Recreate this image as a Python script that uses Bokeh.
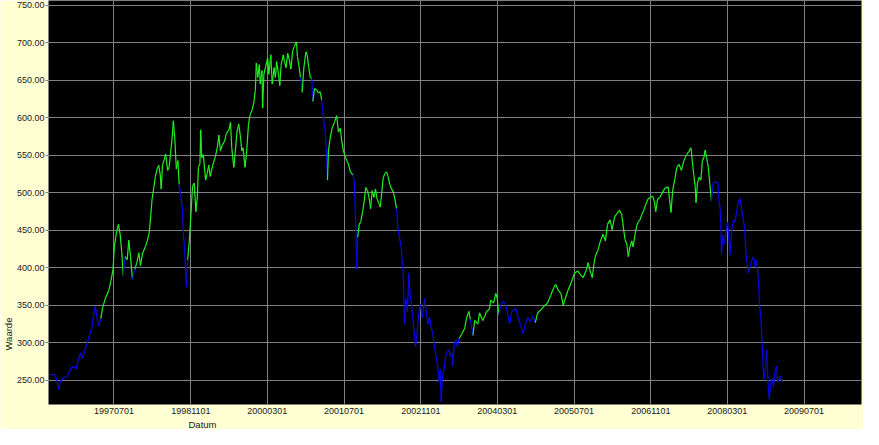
import pandas as pd
from datetime import datetime
from bokeh.plotting import figure
from bokeh.models import (ColumnDataSource, FixedTicker, DatetimeTickFormatter,
                          NumeralTickFormatter, Range1d, Title)
from bokeh.embed import file_html
from bokeh.resources import INLINE

# ---------------- data ----------------
dates = [
    "1996-05-15", "1996-06-16", "1996-06-29", "1996-07-15", "1996-07-25", "1996-08-15", "1996-09-05", "1996-09-25", "1996-10-16", "1996-10-31",
    "1996-11-16", "1996-12-02", "1996-12-10", "1996-12-27", "1997-01-13", "1997-01-27", "1997-02-11", "1997-02-21", "1997-03-04", "1997-03-14",
    "1997-03-26", "1997-04-08", "1997-04-20", "1997-05-08", "1997-05-29", "1997-06-12", "1997-06-25", "1997-07-03", "1997-07-15", "1997-07-29",
    "1997-08-09", "1997-08-19", "1997-08-29", "1997-09-09", "1997-09-23", "1997-10-03", "1997-10-14", "1997-10-26", "1997-11-10", "1997-11-23",
    "1997-12-06", "1997-12-16", "1997-12-30", "1998-01-16", "1998-01-30", "1998-02-10", "1998-02-20", "1998-02-28", "1998-03-11", "1998-03-21",
    "1998-04-01", "1998-04-11", "1998-04-21", "1998-04-27", "1998-05-05", "1998-05-17", "1998-05-25", "1998-06-07", "1998-06-17", "1998-06-25",
    "1998-07-05", "1998-07-13", "1998-07-22", "1998-08-01", "1998-08-11", "1998-08-19", "1998-08-28", "1998-09-08", "1998-09-16", "1998-09-22",
    "1998-09-28", "1998-10-04", "1998-10-12", "1998-10-22", "1998-11-02", "1998-11-12", "1998-11-23", "1998-12-03", "1998-12-13", "1998-12-19",
    "1998-12-29", "1999-01-03", "1999-01-09", "1999-01-19", "1999-02-03", "1999-02-13", "1999-02-23", "1999-03-04", "1999-03-20", "1999-04-04",
    "1999-04-18", "1999-04-28", "1999-05-08", "1999-05-20", "1999-06-04", "1999-06-14", "1999-07-01", "1999-07-11", "1999-07-19", "1999-08-01",
    "1999-08-11", "1999-08-21", "1999-09-01", "1999-09-11", "1999-09-21", "1999-09-29", "1999-10-11", "1999-10-20", "1999-11-02", "1999-11-11",
    "1999-11-26", "1999-12-06", "1999-12-16", "1999-12-22", "1999-12-31", "2000-01-10", "2000-01-16", "2000-01-27", "2000-01-31", "2000-02-08",
    "2000-02-20", "2000-03-03", "2000-03-11", "2000-03-23", "2000-04-01", "2000-04-13", "2000-04-21", "2000-04-29", "2000-05-11", "2000-05-19",
    "2000-05-28", "2000-06-10", "2000-06-18", "2000-06-28", "2000-07-08", "2000-07-18", "2000-07-29", "2000-08-08", "2000-08-18", "2000-09-02",
    "2000-09-08", "2000-09-18", "2000-09-28", "2000-10-08", "2000-10-19", "2000-11-01", "2000-11-09", "2000-11-19", "2000-11-29", "2000-12-09",
    "2000-12-15", "2000-12-26", "2001-01-09", "2001-01-20", "2001-01-30", "2001-02-09", "2001-02-15", "2001-02-24", "2001-03-02", "2001-03-10",
    "2001-03-18", "2001-03-24", "2001-04-04", "2001-04-16", "2001-05-01", "2001-05-15", "2001-05-27", "2001-06-07", "2001-06-17", "2001-06-27",
    "2001-07-11", "2001-07-28", "2001-08-11", "2001-08-26", "2001-09-04", "2001-09-08", "2001-09-14", "2001-09-20", "2001-09-26", "2001-10-06",
    "2001-10-16", "2001-10-27", "2001-11-06", "2001-11-16", "2001-11-27", "2001-12-07", "2001-12-17", "2001-12-27", "2002-01-07", "2002-01-17",
    "2002-01-27", "2002-02-07", "2002-02-16", "2002-02-26", "2002-03-07", "2002-03-18", "2002-03-28", "2002-04-07", "2002-04-18", "2002-04-30",
    "2002-05-10", "2002-05-20", "2002-05-31", "2002-06-08", "2002-06-18", "2002-06-29", "2002-07-05", "2002-07-11", "2002-07-14", "2002-07-20",
    "2002-07-29", "2002-08-08", "2002-08-17", "2002-08-25", "2002-09-03", "2002-09-11", "2002-09-19", "2002-09-29", "2002-10-09", "2002-10-20",
    "2002-10-30", "2002-11-10", "2002-11-20", "2002-11-26", "2002-12-06", "2002-12-16", "2002-12-26", "2003-01-06", "2003-01-16", "2003-01-27",
    "2003-02-06", "2003-02-16", "2003-02-26", "2003-03-04", "2003-03-10", "2003-03-19", "2003-03-29", "2003-04-07", "2003-04-17", "2003-04-27",
    "2003-05-08", "2003-05-17", "2003-05-23", "2003-06-01", "2003-06-11", "2003-06-21", "2003-07-02", "2003-07-08", "2003-07-22", "2003-08-07",
    "2003-08-18", "2003-09-02", "2003-09-12", "2003-09-28", "2003-10-09", "2003-10-29", "2003-11-09", "2003-11-29", "2003-12-13", "2003-12-23",
    "2004-01-10", "2004-01-19", "2004-02-06", "2004-02-20", "2004-02-29", "2004-03-10", "2004-03-24", "2004-04-06", "2004-04-20", "2004-04-30",
    "2004-05-17", "2004-06-01", "2004-06-14", "2004-06-26", "2004-07-11", "2004-07-25", "2004-08-11", "2004-08-27", "2004-09-11", "2004-09-25",
    "2004-10-12", "2004-10-28", "2004-11-12", "2004-12-02", "2004-12-22", "2005-01-13", "2005-02-02", "2005-02-23", "2005-03-07", "2005-03-23",
    "2005-04-09", "2005-04-23", "2005-05-03", "2005-05-23", "2005-06-14", "2005-07-04", "2005-07-24", "2005-08-10", "2005-08-27", "2005-09-15",
    "2005-09-29", "2005-10-11", "2005-10-25", "2005-11-05", "2005-11-15", "2005-11-29", "2005-12-16", "2006-01-01", "2006-01-16", "2006-01-30",
    "2006-02-15", "2006-02-28", "2006-03-16", "2006-04-02", "2006-04-16", "2006-04-30", "2006-05-11", "2006-05-21", "2006-06-01", "2006-06-11",
    "2006-06-21", "2006-07-03", "2006-07-11", "2006-07-24", "2006-08-03", "2006-08-14", "2006-08-24", "2006-09-04", "2006-09-18", "2006-10-02",
    "2006-10-14", "2006-10-28", "2006-11-12", "2006-11-24", "2006-12-02", "2006-12-14", "2006-12-28", "2007-01-13", "2007-01-29", "2007-02-19",
    "2007-02-28", "2007-03-09", "2007-03-20", "2007-04-03", "2007-04-15", "2007-04-29", "2007-05-14", "2007-05-30", "2007-06-16", "2007-06-30",
    "2007-07-14", "2007-07-22", "2007-07-31", "2007-08-10", "2007-08-15", "2007-08-24", "2007-09-04", "2007-09-15", "2007-09-24", "2007-10-04",
    "2007-10-12", "2007-10-21", "2007-11-01", "2007-11-11", "2007-11-21", "2007-12-01", "2007-12-11", "2007-12-22", "2008-01-01", "2008-01-07",
    "2008-01-16", "2008-01-20", "2008-01-24", "2008-02-01", "2008-02-12", "2008-02-22", "2008-03-02", "2008-03-12", "2008-03-18", "2008-03-28",
    "2008-04-08", "2008-04-18", "2008-04-28", "2008-05-09", "2008-05-19", "2008-05-29", "2008-06-09", "2008-06-19", "2008-06-27", "2008-07-05",
    "2008-07-13", "2008-07-24", "2008-08-03", "2008-08-14", "2008-08-24", "2008-09-03", "2008-09-14", "2008-09-22", "2008-09-30", "2008-10-08",
    "2008-10-14", "2008-10-20", "2008-10-28", "2008-11-06", "2008-11-14", "2008-11-22", "2008-12-01", "2008-12-09", "2008-12-19", "2008-12-29",
    "2009-01-07", "2009-01-15", "2009-01-25", "2009-02-01", "2009-02-09",
]

values = [
    258, 258, 253, 238, 249, 254, 255, 264, 269, 265,
    277, 287, 279, 290, 300, 311, 321, 338, 349, 334,
    322, 332, 347, 360, 370, 383, 398, 428, 445, 458,
    445, 422, 390, 415, 411, 437, 415, 385, 398, 407,
    420, 403, 420, 428, 437, 447, 471, 492, 507, 522,
    532, 537, 524, 505, 537, 545, 552, 530, 535, 552,
    573, 596, 573, 532, 543, 511, 498, 479, 441, 428,
    400, 375, 411, 435, 472, 509, 513, 475, 496, 534,
    539, 584, 547, 551, 517, 526, 537, 522, 537, 547,
    560, 577, 556, 564, 569, 579, 584, 594, 560, 534,
    556, 581, 592, 577, 556, 560, 534, 551, 590, 603,
    611, 620, 637, 673, 654, 671, 645, 663, 613, 658,
    669, 680, 658, 684, 645, 667, 654, 675, 658, 643,
    671, 684, 675, 667, 686, 678, 665, 688, 695, 701,
    682, 669, 654, 634, 667, 688, 684, 667, 654, 652,
    622, 639, 637, 633, 635, 624, 611, 594, 586, 560,
    517, 556, 573, 586, 594, 603, 581, 586, 569, 556,
    547, 539, 528, 524, 516, 492, 453, 398, 441, 458,
    462, 475, 488, 507, 503, 494, 479, 503, 494, 505,
    492, 486, 481, 501, 520, 526, 528, 522, 511, 505,
    501, 492, 479, 453, 441, 428, 411, 398, 376, 325,
    359, 342, 393, 364, 351, 334, 316, 295, 316, 342,
    351, 334, 351, 359, 342, 325, 334, 321, 312, 295,
    282, 269, 248, 265, 222, 257, 265, 282, 287, 291,
    282, 287, 269, 299, 304, 295, 306, 308, 313, 320,
    333, 342, 331, 310, 330, 325, 340, 330, 336, 342,
    345, 357, 353, 366, 360, 338, 351, 355, 353, 344,
    325, 342, 344, 346, 334, 325, 312, 325, 334, 329,
    336, 327, 340, 344, 349, 353, 363, 374, 378, 370,
    366, 350, 357, 370, 381, 393, 396, 391, 387, 396,
    407, 396, 387, 406, 417, 423, 436, 445, 436, 458,
    464, 451, 468, 473, 477, 471, 453, 438, 432, 415,
    428, 436, 428, 445, 456, 462, 464, 471, 477, 486,
    492, 494, 496, 488, 475, 492, 494, 500, 506, 508,
    491, 474, 504, 519, 534, 538, 530, 543, 551, 555,
    560, 543, 525, 508, 487, 513, 521, 517, 543, 547,
    557, 547, 534, 511, 489, 513, 515, 513, 515, 491,
    478, 449, 419, 444, 432, 449, 461, 436, 417, 449,
    464, 461, 474, 487, 493, 481, 466, 453, 419, 406,
    393, 402, 410, 415, 402, 410, 385, 350, 333, 299,
    269, 252, 265, 291, 248, 225, 244, 252, 242, 261,
    269, 248, 252, 256, 248,
]

# trend state at each point: G = above trend (green), B = below trend (blue)
trend_rows = """
BBBBBBBBBB BBBBBBBBBB BGGGGGGGGG GGBGGGGBGG GGGGGGGGGG
GGGGGGGGGG GGGGGBBBBB BBGGGGGGGG GGGGGGGGGG GGGGGGGGGG
GGGGGGGGGG GGGGGGGGGG GGGGGGGGGG GGGGGGGGGG GGBGGGGGGB
GGGGGBBBBB GGGGGGGGGG GGGBBBBBGG GGGGGGGGGG GGGGGGGGGG
GGBBBBBBBB BBBBBBBBBB BBBBBBBBBB BBBBBBBBBB BBBBBBGGGG
GGBGGGGGGG GGGGGBBBBB BBBBBBBBBB BGGGGGGGGG GGGGGGGGGG
GGGGGGGGGG GGGGGGGGGG GGGGGGGGGG GGGGGGGGGG GGGGGGGGGG
GGGGGGGGGG GGGGBBBBBB BBBBBBBBBB BBBBBBBBBB BBBBBBBBBB
BBBBBBBBBB BBBBB
"""

x_tick_dates = ["1997-07-01", "1998-11-01", "2000-03-01", "2001-07-01", "2002-11-01",
                "2004-03-01", "2005-07-01", "2006-11-01", "2008-03-01", "2009-07-01"]
y_ticks = [250, 300, 350, 400, 450, 500, 550, 600, 650, 700, 750]

x_label = "Datum"
y_label = "Waarde"

# ---------------- styling ----------------
BG = "#FFFFD4"
UP = "#22EE22"
DOWN = "#0808E8"
GRID = "#808080"
FONT = "Liberation Sans"

trend = "".join(trend_rows.split())
assert len(trend) == len(values) == len(dates)
t = pd.to_datetime(dates)
colors = [UP if c == "G" else DOWN for c in trend[:-1]]

src = ColumnDataSource(dict(
    x0=t.values[:-1], y0=values[:-1],
    x1=t.values[1:], y1=values[1:],
    color=colors,
))

p = figure(width=863, height=429, x_axis_type="datetime",
           output_backend="svg", toolbar_location=None,
           x_range=Range1d(datetime(1996, 5, 11), datetime(2010, 7, 1)),
           y_range=Range1d(218, 756.4),
           min_border_left=0, min_border_right=2,
           min_border_top=0, min_border_bottom=0)

p.background_fill_color = "black"
p.border_fill_color = BG
p.outline_line_color = None

p.segment(x0="x0", y0="y0", x1="x1", y1="y1", color="color",
          line_width=1.2, source=src)

tick_ms = [pd.Timestamp(d).timestamp() * 1000 for d in x_tick_dates]
p.xaxis.ticker = FixedTicker(ticks=tick_ms)
fmt = "%Y%m%d"
p.xaxis.formatter = DatetimeTickFormatter(
    milliseconds=fmt, seconds=fmt, minsec=fmt, minutes=fmt, hourmin=fmt,
    hours=fmt, days=fmt, months=fmt, years=fmt)
p.yaxis.ticker = FixedTicker(ticks=y_ticks)
p.yaxis.formatter = NumeralTickFormatter(format="0.00")

for ax in (p.xaxis, p.yaxis):
    ax.axis_line_color = None
    ax.minor_tick_line_color = None
    ax.major_label_text_font = FONT
    ax.major_label_text_font_size = "9px"
    ax.major_label_text_color = "#1a1a1a"
    ax.major_tick_in = 0

p.xaxis.major_tick_out = 0
p.xaxis.major_label_standoff = 3
p.yaxis.major_tick_out = 3
p.yaxis.major_tick_line_color = GRID
p.yaxis.major_label_standoff = 1

p.xgrid.grid_line_color = GRID
p.ygrid.grid_line_color = GRID
p.xgrid.grid_line_width = 1
p.ygrid.grid_line_width = 1

p.add_layout(Title(text=x_label, align="left", offset=140, standoff=0,
                   text_font=FONT, text_font_size="9.5px",
                   text_font_style="normal", text_color="#1a1a1a"), "below")
p.add_layout(Title(text=y_label, align="left", offset=54, standoff=0,
                   text_font=FONT, text_font_size="9.5px",
                   text_font_style="normal", text_color="#1a1a1a"), "left")

open("out.html", "w").write(file_html(p, INLINE))
